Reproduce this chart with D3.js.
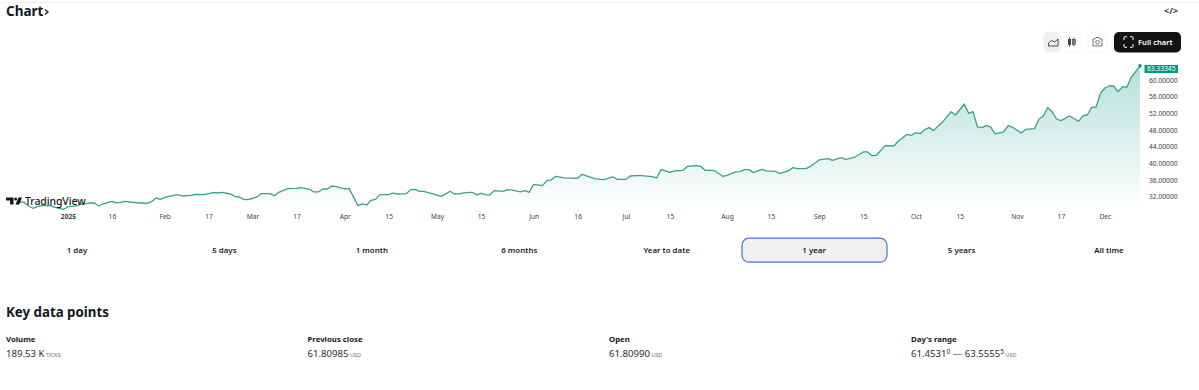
<!DOCTYPE html>
<html>
<head>
<meta charset="utf-8">
<script src="https://cdn.jsdelivr.net/npm/d3@7"></script>
<style>
  html, body { margin: 0; padding: 0; background: #fff; }
  svg { display: block; font-family: "Noto Sans", sans-serif; }
  .axis path, .axis line { display: none; }
  .axis text { font-family: "Noto Sans", sans-serif; font-size: 6.7px; fill: #3d3f46; }
</style>
</head>
<body>
<div id="chart"></div>
<script>
// bar number counts weekdays from 1 Jan 2025
var bars = [-11,-10,-9,-8,-7,-6,-4,-3,-1,0,2,3,4,5,6,7,8,10,11,12,13,14,16,17,18,19,20,21,22,24,25,26,28,29,31,32,33,34,35,
  37,38,39,40,41,43,44,46,47,48,50,52,53,55,56,57,58,59,60,61,63,64,66,67,68,69,70,71,73,74,75,77,78,79,80,81,85,87,88,
  89,90,92,93,94,95,96,97,99,100,101,103,104,105,106,108,109,110,111,113,116,117,120,122,124,125,127,128,130,133,134,135,137,138,140,141,
  143,144,145,147,149,150,152,153,154,155,156,158,159,161,162,164,165,166,168,169,171,173,174,176,177,179,181,182,183,184,186,188,189,191,192,193,
  194,195,196,197,198,199,201,202,204,205,206,207,208,209,210,211,213,214,215,217,218,220,221,222,223,224,225,226,228,230,231,232,233,234,235,236,237,238,239,240,241,242,243,244];
var prices = [30.56,30.48,29.6,29.04,29.44,29.68,29.68,29.28,28.8,29.44,29.6,30.08,30.16,30.32,30.32,29.6,30.08,30.72,30.32,30.48,30.72,30.56,30.32,30.32,30.24,30.64,31.52,31.2,31.68,32.16,32.32,32,32.16,32.4,32.32,32.56,32.8,32.72,32.88,
  32.48,31.92,31.76,31.2,31.12,31.76,32.56,32.56,32.08,32.88,33.77,33.85,34.01,33.61,32.97,32.97,33.69,33.69,34.41,34.25,33.69,33.77,29.68,30.08,29.84,30.96,31.2,32.32,32.32,32.72,32.48,32.56,33.53,33.61,33.13,33.13,31.92,33.13,32.48,
  32.5,32.73,32.89,32.25,32.65,32.33,32.25,33.3,33.13,33.54,33.46,32.97,33.3,32.89,34.82,34.5,35.7,35.86,36.74,36.34,36.26,37.23,36.1,35.94,36.58,36.02,36.02,36.82,36.98,36.66,36.34,38.35,37.71,38.03,38.19,39.15,
  39.31,39.15,38.19,38.19,36.75,36.99,37.79,37.87,38.35,38.35,37.63,38.43,38.03,37.95,37.39,38.11,38.83,38.59,38.59,39.15,40.68,41,40.6,41.24,40.84,41.32,42.6,42.6,41.72,41.8,44.12,44.04,45.25,46.85,46.61,47.25,
  47,47.98,48.46,47.74,48.78,49.74,52.3,51.5,54.15,51.9,52.3,48.62,48.46,48.94,48.62,46.94,47.42,48.94,48.54,47.18,48.06,48.22,50.46,51.27,53.27,52.3,50.54,50.14,51.27,49.98,51.27,51.5,53.35,53.43,56.72,58,58.48,58.48,57.12,58.32,58.16,60.57,61.93,63.33345];

var dateBars = [0,10,22,32,42,52,63,73,84,94,106,116,127,137,150,160,171,181,193,203,216,226,236];
var dateLabels = ["2025","16","Feb","17","Mar","17","Apr","15","May","15","Jun","16","Jul","15","Aug","15","Sep","15","Oct","15","Nov","17","Dec"];
var priceTicks = [32,36,40,44,48,52,56,60];
var ranges = ["1 day","5 days","1 month","6 months","Year to date","1 year","5 years","All time"];
var selectedRange = "1 year";
var keyLabels = ["Volume","Previous close","Open","Day's range"];

var width = 1199, height = 390;
var svg = d3.select("#chart").append("svg").attr("width", width).attr("height", height);

var x = d3.scaleLinear().domain([0, 244]).range([68, 1140]);
var y = d3.scaleLinear().domain([32, 60]).range([196, 79.7]);

// top rule and heading
svg.append("line").attr("x1", 0).attr("x2", width).attr("y1", 2.5).attr("y2", 2.5).attr("stroke", "#f0f0f0");
svg.append("text").attr("x", 6).attr("y", 15.5).attr("font-size", 13.5).attr("font-weight", 700).attr("fill", "#131722").text("Chart");
svg.append("path").attr("d", "M45 9.500l3 2.500-3 2.500").attr("fill", "none").attr("stroke", "#131722").attr("stroke-width", 1.300);
svg.append("text").attr("x", 1171).attr("y", 13.5).attr("text-anchor", "middle").attr("font-size", 9).attr("font-weight", 600).attr("fill", "#131722").text("</>");

// area and line
var defs = svg.append("defs");
var grad = defs.append("linearGradient").attr("id", "fade").attr("gradientUnits", "userSpaceOnUse")
  .attr("x1", 0).attr("x2", 0).attr("y1", 66).attr("y2", 208);
grad.append("stop").attr("offset", 0).attr("stop-color", "#089981").attr("stop-opacity", 0.3);
grad.append("stop").attr("offset", 1).attr("stop-color", "#089981").attr("stop-opacity", 0);

var series = bars.map(function(b, i){ return {bar: b, price: prices[i]}; });

svg.append("path").datum(series)
  .attr("fill", "url(#fade)")
  .attr("d", d3.area().x(function(d){ return x(d.bar); }).y0(208).y1(function(d){ return y(d.price); }));
svg.append("path").datum(series)
  .attr("fill", "none").attr("stroke", "#3ba08e").attr("stroke-width", 1.3).attr("stroke-linejoin", "round")
  .attr("d", d3.line().x(function(d){ return x(d.bar); }).y(function(d){ return y(d.price); }));

var last = series[series.length - 1];
svg.append("circle").attr("cx", x(last.bar)).attr("cy", y(last.price)).attr("r", 1.8).attr("fill", "#1f8f7b");

// axes
svg.append("g").attr("class", "axis").attr("transform", "translate(0,218.500)")
  .call(d3.axisBottom(x).tickValues(dateBars).tickSize(0).tickPadding(0)
    .tickFormat(function(d, i){ return dateLabels[i]; }))
  .selectAll("text").attr("dy", "0").style("font-weight", function(d, i){ return i === 0 ? 700 : 400; });

svg.append("g").attr("class", "axis").attr("transform", "translate(1149,0.500)")
  .call(d3.axisRight(y).tickValues(priceTicks).tickSize(0).tickPadding(0).tickFormat(d3.format(".5f")));

svg.append("rect").attr("x", 1144.5).attr("y", 65).attr("width", 33.5).attr("height", 8).attr("fill", "#089981");
svg.append("text").attr("x", 1161.2).attr("y", 71.3).attr("text-anchor", "middle").attr("font-size", 6.7).attr("fill", "#fff")
  .text(d3.format(".5f")(last.price));

// logo sits over the line
var logo = svg.append("g").attr("fill", "#131722");
logo.append("path").attr("d", "M6 197.500h7.500v7h-3.400v-4H6z");
logo.append("circle").attr("cx", 15.6).attr("cy", 199).attr("r", 1.5);
logo.append("path").attr("d", "M18.500 197.500h3.600l-3 7h-3.600z");
logo.append("text").attr("x", 25).attr("y", 204.800).attr("font-size", 10.500).attr("font-weight", 500).attr("letter-spacing", -0.1).text("TradingView");

// toolbar
svg.append("rect").attr("x", 1044).attr("y", 32).attr("width", 37).attr("height", 20).attr("rx", 5).attr("fill", "#fff").attr("stroke", "#f4f4f4");
svg.append("rect").attr("x", 1044).attr("y", 32).attr("width", 17).attr("height", 20).attr("rx", 5).attr("fill", "#f0f0f0");
svg.append("path").attr("d", "M1048.500 46v-3l3-2.500 3 1.500 3.500-3v7z").attr("fill", "none").attr("stroke", "#333").attr("stroke-width", 0.9);
svg.append("path").attr("d", "M1069.500 37v10M1073.800 37.500v9").attr("stroke", "#444").attr("stroke-width", 0.8);
svg.append("rect").attr("x", 1068).attr("y", 39).attr("width", 3).attr("height", 6).attr("fill", "#444");
svg.append("rect").attr("x", 1072.300).attr("y", 39.500).attr("width", 3).attr("height", 5).attr("fill", "#888").attr("stroke", "#444").attr("stroke-width", 0.7);
svg.append("rect").attr("x", 1088).attr("y", 32).attr("width", 19).attr("height", 20).attr("rx", 5).attr("fill", "#fff").attr("stroke", "#f4f4f4");
svg.append("path").attr("d", "M1093 39h2l1-1.500h3l1 1.500h2v7h-9z").attr("fill", "none").attr("stroke", "#555").attr("stroke-width", 0.8);
svg.append("circle").attr("cx", 1097.5).attr("cy", 42.3).attr("r", 1.8).attr("fill", "none").attr("stroke", "#555").attr("stroke-width", 0.8);
svg.append("rect").attr("x", 1114).attr("y", 32).attr("width", 67).attr("height", 20.5).attr("rx", 5).attr("fill", "#131313");
svg.append("path").attr("d", "M1124 40v-2.500q0-.8.8-.8h2.200M1130 36.700h2.200q.8 0 .8.8V40M1133 44v2.500q0 .8-.8.8H1130M1127 47.300h-2.200q-.8 0-.8-.8V44")
  .attr("fill", "none").attr("stroke", "#fff").attr("stroke-width", 1);
svg.append("text").attr("x", 1138).attr("y", 45.200).attr("font-size", 7.600).attr("font-weight", 600).attr("fill", "#fff").text("Full chart");

// range buttons
var rangeX = d3.scalePoint().domain(ranges).range([77, 1109]);
svg.append("rect").attr("x", 742).attr("y", 238.2).attr("width", 145).attr("height", 24).attr("rx", 7)
  .attr("fill", "#f0f0f0").attr("stroke", "#4a72d4").attr("stroke-width", 1.2);
svg.selectAll(".range").data(ranges).enter().append("text")
  .attr("class", "range")
  .attr("x", function(d){ return rangeX(d); })
  .attr("y", 253.300)
  .attr("text-anchor", "middle").attr("font-size", 7.900).attr("font-weight", 600).attr("fill", "#1e2026")
  .text(function(d){ return d; });

// key data points
svg.append("text").attr("x", 6).attr("y", 317).attr("font-size", 13.300).attr("font-weight", 700).attr("fill", "#131722").text("Key data points");

var keyX = [6, 307.500, 609, 911];
svg.selectAll(".keylabel").data(keyLabels).enter().append("text")
  .attr("class", "keylabel")
  .attr("x", function(d, i){ return keyX[i]; })
  .attr("y", 342).attr("font-size", 7.800).attr("font-weight", 700).attr("fill", "#131722")
  .text(function(d){ return d; });

function keyValue(i, parts){
  var t = svg.append("text").attr("x", keyX[i]).attr("y", 356.500).attr("font-size", 9.600).attr("fill", "#2a2c33");
  parts.forEach(function(p){
    var s = t.append("tspan").text(p[0]);
    if(p[1] === "unit") s.attr("font-size", 5.500).attr("dx", 1.500).attr("fill", "#6a6d78");
    if(p[1] === "sup") s.attr("font-size", 6.500).attr("dy", -3);
    if(p[1] === "back") s.attr("dy", 3);
    if(p[1] === "backunit") s.attr("font-size", 5.500).attr("dx", 1.500).attr("dy", 3).attr("fill", "#6a6d78");
  });
}
keyValue(0, [["189.53 K"], ["TICKS", "unit"]]);
keyValue(1, [["61.80985"], ["USD", "unit"]]);
keyValue(2, [["61.80990"], ["USD", "unit"]]);
keyValue(3, [["61.4531"], ["0", "sup"], [" — 63.5555", "back"], ["5", "sup"], ["USD", "backunit"]]);
</script>
</body>
</html>
